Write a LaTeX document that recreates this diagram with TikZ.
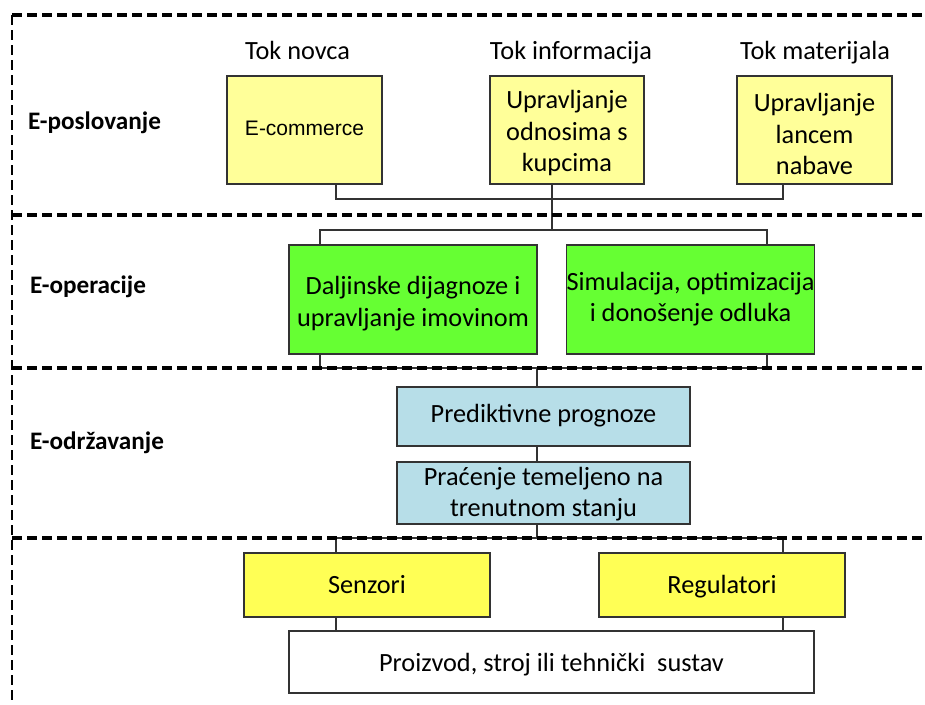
\documentclass[tikz,border=0pt]{standalone}
\usepackage{fontspec}
\setmainfont{Carlito}
\newfontfamily\arialfont{Liberation Sans}
\definecolor{paleyel}{HTML}{FFFF99}
\definecolor{brightgreen}{HTML}{66FF33}
\definecolor{lightblue}{HTML}{B7DEE8}
\definecolor{yel}{HTML}{FFFF55}
\definecolor{linegray}{HTML}{333333}
\newcommand\mytop[1]{\rule{0pt}{#1pt}}
\newcommand\mybot[1]{\rule[-#1pt]{0pt}{#1pt}}
\begin{document}
\begin{tikzpicture}[x=1pt,y=-1pt,
  every node/.style={inner sep=0pt,outer sep=0pt},
  bigtext/.style={font=\fontsize{26.3}{31.6}\selectfont},
  box/.style={draw=linegray,line width=1.3pt,rectangle,align=center,bigtext},
  ybox/.style={box,fill=paleyel},
  gbox/.style={box,fill=brightgreen},
  bbox/.style={box,fill=lightblue},
  sbox/.style={box,fill=yel},
  wbox/.style={box,fill=white},
  conn/.style={draw=linegray,line width=1.4pt},
  sep/.style={draw=black,line width=3.4pt,dash pattern=on 10pt off 5pt},
  lbl/.style={font=\fontsize{25.2}{30}\selectfont\bfseries,anchor=base west},
  toklbl/.style={bigtext,anchor=base}]
\useasboundingbox (0,0) rectangle (925,704);
% frame and separators
\coordinate (f0) at (12,15);
\coordinate (f0r) at (925,15);
\coordinate (fb) at (12,704);
\coordinate (s1l) at (12,215);
\coordinate (s1r) at (925,215);
\coordinate (s2l) at (12,368);
\coordinate (s2r) at (925,368);
\coordinate (s3l) at (12,538);
\coordinate (s3r) at (925,538);
% labels
\node[lbl] (lposl) at (28,129) {E-poslovanje};
\node[lbl] (loper) at (30,293) {E-operacije};
\node[lbl] (lodrz) at (30,449) {E-održavanje};
\node[toklbl] (tnov) at (297.5,59) {Tok novca};
\node[toklbl] (tinf) at (571,59) {Tok informacija};
\node[toklbl] (tmat) at (815,59) {Tok materijala};
% boxes
\node[ybox,minimum width=155,minimum height=108] (ecom) at (304.5,130) {\arialfont\fontsize{21}{25}\selectfont\mytop{16}E-commerce\mybot{6}};
\node[ybox,minimum width=154,minimum height=108] (kup) at (567,130) {\mytop{27}Upravljanje\\odnosima s\\kupcima\mybot{7}};
\node[ybox,minimum width=155,minimum height=108] (nab) at (814.5,130) {\mytop{33}Upravljanje\\lancem\\nabave\mybot{7}};
\node[gbox,minimum width=248,minimum height=109] (dal) at (413,299.5) {\mytop{29}Daljinske dijagnoze i\\upravljanje imovinom\mybot{7}};
\node[gbox,minimum width=247,minimum height=109] (sim) at (690.5,299.5) {\mytop{22}Simulacija, optimizacija\\i donošenje odluka\mybot{9}};
\node[bbox,minimum width=293,minimum height=59] (pred) at (543.5,416.5) {\mytop{21}Prediktivne prognoze\mybot{9}};
\node[bbox,minimum width=293,minimum height=62] (prac) at (543.5,493) {\mytop{23}Praćenje temeljeno na\\trenutnom stanju\mybot{7}};
\node[sbox,minimum width=246,minimum height=64] (sen) at (367,585) {\mytop{23}Senzori\mybot{7}};
\node[sbox,minimum width=246,minimum height=64] (reg) at (722,585) {\mytop{23}Regulatori\mybot{7}};
\node[wbox,minimum width=525,minimum height=62] (prod) at (551.5,662) {\mytop{26}Proizvod, stroj ili tehnički\ \ sustav\mybot{7}};
% junctions
\coordinate (b1l) at (336,199);
\coordinate (b1r) at (783,199);
\coordinate (b2c) at (552,230);
\coordinate (b2l) at (320,230);
\coordinate (b2r) at (767,230);
\coordinate (b3l) at (320,368);
\coordinate (b3r) at (767,368);
\coordinate (b3c) at (537,368);
\coordinate (b4c) at (537,538);
\coordinate (b4l) at (336,538);
\coordinate (b4r) at (783,538);
% connectors
\draw[conn] (ecom.south -| b1l) -- (b1l) -- (b1r) -- (nab.south -| b1r);
\draw[conn] (kup.south -| b2c) -- (b2c);
\draw[conn] (dal.north -| b2l) -- (b2l) -- (b2r) -- (sim.north -| b2r);
\draw[conn] (dal.south -| b3l) -- (b3l) -- (b3r) -- (sim.south -| b3r);
\draw[conn] (b3c) -- (pred.north -| b3c);
\draw[conn] (pred.south -| b3c) -- (prac.north -| b3c);
\draw[conn] (prac.south -| b4c) -- (b4c);
\draw[conn] (sen.north -| b4l) -- (b4l) -- (b4r) -- (reg.north -| b4r);
\draw[conn] (sen.south -| b4l) -- (prod.north -| b4l);
\draw[conn] (reg.south -| b4r) -- (prod.north -| b4r);
% dashed separators
\draw[sep] (f0) -- (f0r);
\draw[sep] (s1l) -- (s1r);
\draw[sep] (s2l) -- (s2r);
\draw[sep] (s3l) -- (s3r);
\draw[sep,line width=2.8pt] (f0) -- (fb);
\end{tikzpicture}
\end{document}
